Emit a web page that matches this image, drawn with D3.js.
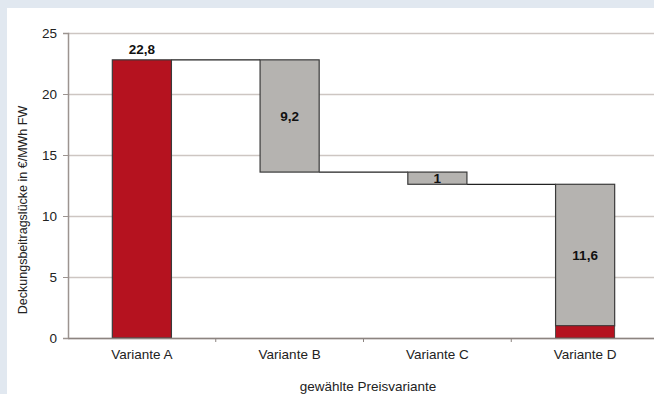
<!DOCTYPE html>
<html>
<head>
<meta charset="utf-8">
<script src="https://cdn.jsdelivr.net/npm/d3@7"></script>
<style>
  html, body { margin: 0; padding: 0; background: #e1e8f0; }
  svg { display: block; font-family: "Liberation Sans", Arial, sans-serif; }
</style>
</head>
<body>
<svg id="chart"></svg>
<script>
// Categories on the x axis
const categories = ["Variante A", "Variante B", "Variante C", "Variante D"];

// Waterfall steps: start value, then reductions
const stepValues = [22.8, -9.2, -1, -11.6];

// Value labels on the bars
const barLabels = ["22,8", "9,2", "1", "11,6"];

// Y axis ticks
const yTicks = [0, 5, 10, 15, 20, 25];

// Axis titles
const yTitle = "Deckungsbeitragslücke in €/MWh FW";
const xTitle = "gewählte Preisvariante";

// SVG dimensions
let width = 654, height = 394;
let plotLeft = 68, plotRight = 659, plotTop = 33, plotBottom = 338;

let svg = d3.select('#chart')
    .attr('width', width)
    .attr('height', height);

// white panel
svg.append('rect')
    .attr('x', 7).attr('y', 8)
    .attr('width', width - 7).attr('height', height - 8)
    .attr('fill', '#ffffff');

let xScale = d3.scaleBand()
    .domain(categories)
    .range([plotLeft, plotRight])
    .paddingInner(0.6)
    .paddingOuter(0.3);

let yScale = d3.scaleLinear()
    .domain([0, 25])
    .range([plotBottom, plotTop]);

// Grid lines
svg.append('g')
    .attr('transform', `translate(${plotLeft}, 0)`)
    .call(d3.axisLeft(yScale).tickValues(yTicks).tickSize(-(plotRight - plotLeft)).tickFormat(''))
    .call(g => g.select('.domain').remove())
    .call(g => g.selectAll('line').attr('stroke', '#cdc6c2').attr('stroke-width', 1.6));

// Y axis
svg.append('g')
    .attr('transform', `translate(${plotLeft}, 0)`)
    .call(d3.axisLeft(yScale).tickValues(yTicks).tickSize(5).tickPadding(6))
    .call(g => g.select('.domain').attr('stroke', '#9c9490').attr('stroke-width', 1.5))
    .call(g => g.selectAll('line').attr('stroke', '#9c9490'))
    .call(g => g.selectAll('text')
        .attr('font-size', 13.5)
        .attr('fill', '#222')
        .attr('font-family', '"Liberation Sans", Arial, sans-serif'));

// Compute running totals
let running = 0;
let steps = stepValues.map((v, i) => {
    let start = running;
    running += v;
    return { cat: categories[i], start: start, end: running, label: barLabels[i] };
});
let remainder = running;

// Connector lines
steps.slice(0, -1).forEach((d, i) => {
    svg.append('line')
        .attr('x1', xScale(d.cat) + xScale.bandwidth())
        .attr('x2', xScale(steps[i + 1].cat))
        .attr('y1', yScale(d.end))
        .attr('y2', yScale(d.end))
        .attr('stroke', '#222')
        .attr('stroke-width', 1.3);
});

// Bars
svg.selectAll('rect.bar')
    .data(steps)
    .enter()
    .append('rect')
    .attr('class', 'bar')
    .attr('x', (d) => xScale(d.cat))
    .attr('width', xScale.bandwidth())
    .attr('y', (d) => yScale(Math.max(d.start, d.end)))
    .attr('height', (d) => Math.abs(yScale(d.start) - yScale(d.end)))
    .attr('fill', (d, i) => i === 0 ? '#b5121f' : '#b5b3b0')
    .attr('stroke', '#3a3a3a')
    .attr('stroke-width', 1.2);

// Remaining red part in the last column
let lastCat = categories[categories.length - 1];
svg.append('rect')
    .attr('x', xScale(lastCat))
    .attr('width', xScale.bandwidth())
    .attr('y', yScale(remainder))
    .attr('height', yScale(0) - yScale(remainder))
    .attr('fill', '#b5121f')
    .attr('stroke', '#3a3a3a')
    .attr('stroke-width', 0.8);

// Bar labels
svg.selectAll('text.value')
    .data(steps)
    .enter()
    .append('text')
    .attr('class', 'value')
    .attr('x', (d) => xScale(d.cat) + xScale.bandwidth() / 2)
    .attr('y', (d, i) => i === 0 ? yScale(d.end) - 6 : yScale((d.start + d.end) / 2))
    .attr('dy', (d, i) => i === 0 ? 0 : '0.36em')
    .attr('text-anchor', 'middle')
    .attr('font-size', 13.5)
    .attr('font-weight', 'bold')
    .attr('fill', '#111')
    .text((d) => d.label);

// X axis
svg.append('g')
    .attr('transform', `translate(0, ${plotBottom})`)
    .call(d3.axisBottom(xScale).tickSize(0).tickPadding(11))
    .call(g => g.select('.domain').attr('stroke', '#8c8480').attr('stroke-width', 1.5))
    .call(g => g.selectAll('text')
        .attr('font-size', 13.5)
        .attr('fill', '#222')
        .attr('font-family', '"Liberation Sans", Arial, sans-serif'));

// Category boundary ticks
svg.selectAll('line.sep')
    .data(categories.slice(1))
    .enter()
    .append('line')
    .attr('class', 'sep')
    .attr('x1', (d) => xScale(d) - (xScale.step() - xScale.bandwidth()) / 2)
    .attr('x2', (d) => xScale(d) - (xScale.step() - xScale.bandwidth()) / 2)
    .attr('y1', plotBottom)
    .attr('y2', plotBottom + 4)
    .attr('stroke', '#8c8480');

// Axis titles
svg.append('text')
    .attr('transform', `translate(23, 210) rotate(-90)`)
    .attr('text-anchor', 'middle')
    .attr('dy', '0.35em')
    .attr('font-size', 12.5)
    .attr('fill', '#222')
    .text(yTitle);

svg.append('text')
    .attr('x', 368)
    .attr('y', 391)
    .attr('text-anchor', 'middle')
    .attr('font-size', 13.5)
    .attr('fill', '#222')
    .text(xTitle);
</script>
</body>
</html>
